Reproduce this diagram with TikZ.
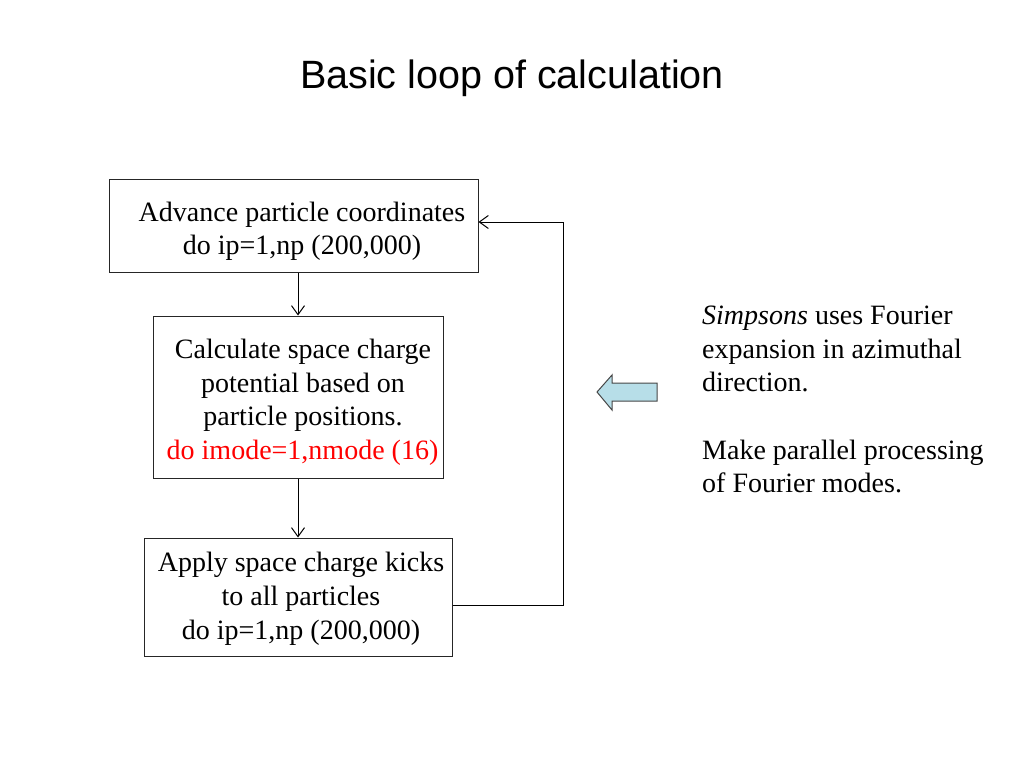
\documentclass[tikz,border=0pt]{standalone}
\usepackage{fontspec}
\setmainfont{Liberation Serif}
\newfontfamily\titlefont{Liberation Sans}
\usetikzlibrary{arrows.meta}
\definecolor{arrowfill}{RGB}{183,222,232}
\definecolor{arrowdraw}{RGB}{70,70,70}
\newcommand{\padl}[1]{\hspace*{#1}}
\newcommand{\topstrut}[1]{\rule{0pt}{#1}}
\begin{document}
\begin{tikzpicture}[x=1bp,y=-1bp,
  boxnode/.style={draw=black!85, line width=1bp, align=center, inner sep=0pt,
    font=\fontsize{28bp}{33.6bp}\selectfont},
  arr/.style={line width=1bp, -{Straight Barb[length=9bp,width=13bp,line width=1bp]}}]
\useasboundingbox (0,0) rectangle (1024,768);
\node[font=\titlefont\fontsize{39.5bp}{46bp}\selectfont] (title) at (512,78) {Basic loop of calculation};
\node[boxnode, minimum width=368bp, minimum height=93bp] (b1) at (294,225.5)
  {\padl{16bp}\topstrut{31bp}Advance particle coordinates\\\padl{16bp}do ip=1,np (200,000)};
\node[boxnode, minimum width=290bp, minimum height=162bp] (b2) at (298,397)
  {\padl{10bp}\topstrut{30bp}Calculate space charge\\\padl{10bp}potential based on\\\padl{10bp}particle positions.\\\padl{9bp}\textcolor{red}{do imode=1,nmode (16)}};
\node[boxnode, minimum width=307bp, minimum height=118bp] (b3) at (298.5,597)
  {\padl{5bp}\topstrut{23bp}Apply space charge kicks\\\padl{5bp}to all particles\\\padl{5bp}do ip=1,np (200,000)};
\draw[arr] (b1.south -| 298,0) -- (b2.north -| 298,0);
\draw[arr] (b2.south -| 298,0) -- (b3.north -| 298,0);
\coordinate (fb1) at (563,605);
\coordinate (fb2) at (563,222);
\draw[arr] (b3.east |- fb1) -- (fb1) -- (fb2) -- (b1.east |- fb2);
\draw[fill=arrowfill, draw=arrowdraw, line width=1bp]
  (657,383) -- (612,383) -- (612,375) -- (597,392) -- (612,410) -- (612,401) -- (657,401) -- cycle;
\node[anchor=north west, align=left, inner sep=0pt,
  font=\fontsize{28bp}{33.6bp}\selectfont] (note) at (702,306)
  {\textit{Simpsons} uses Fourier\\expansion in azimuthal\\direction.\\[33.6bp]Make parallel processing\\of Fourier modes.};
\end{tikzpicture}
\end{document}
